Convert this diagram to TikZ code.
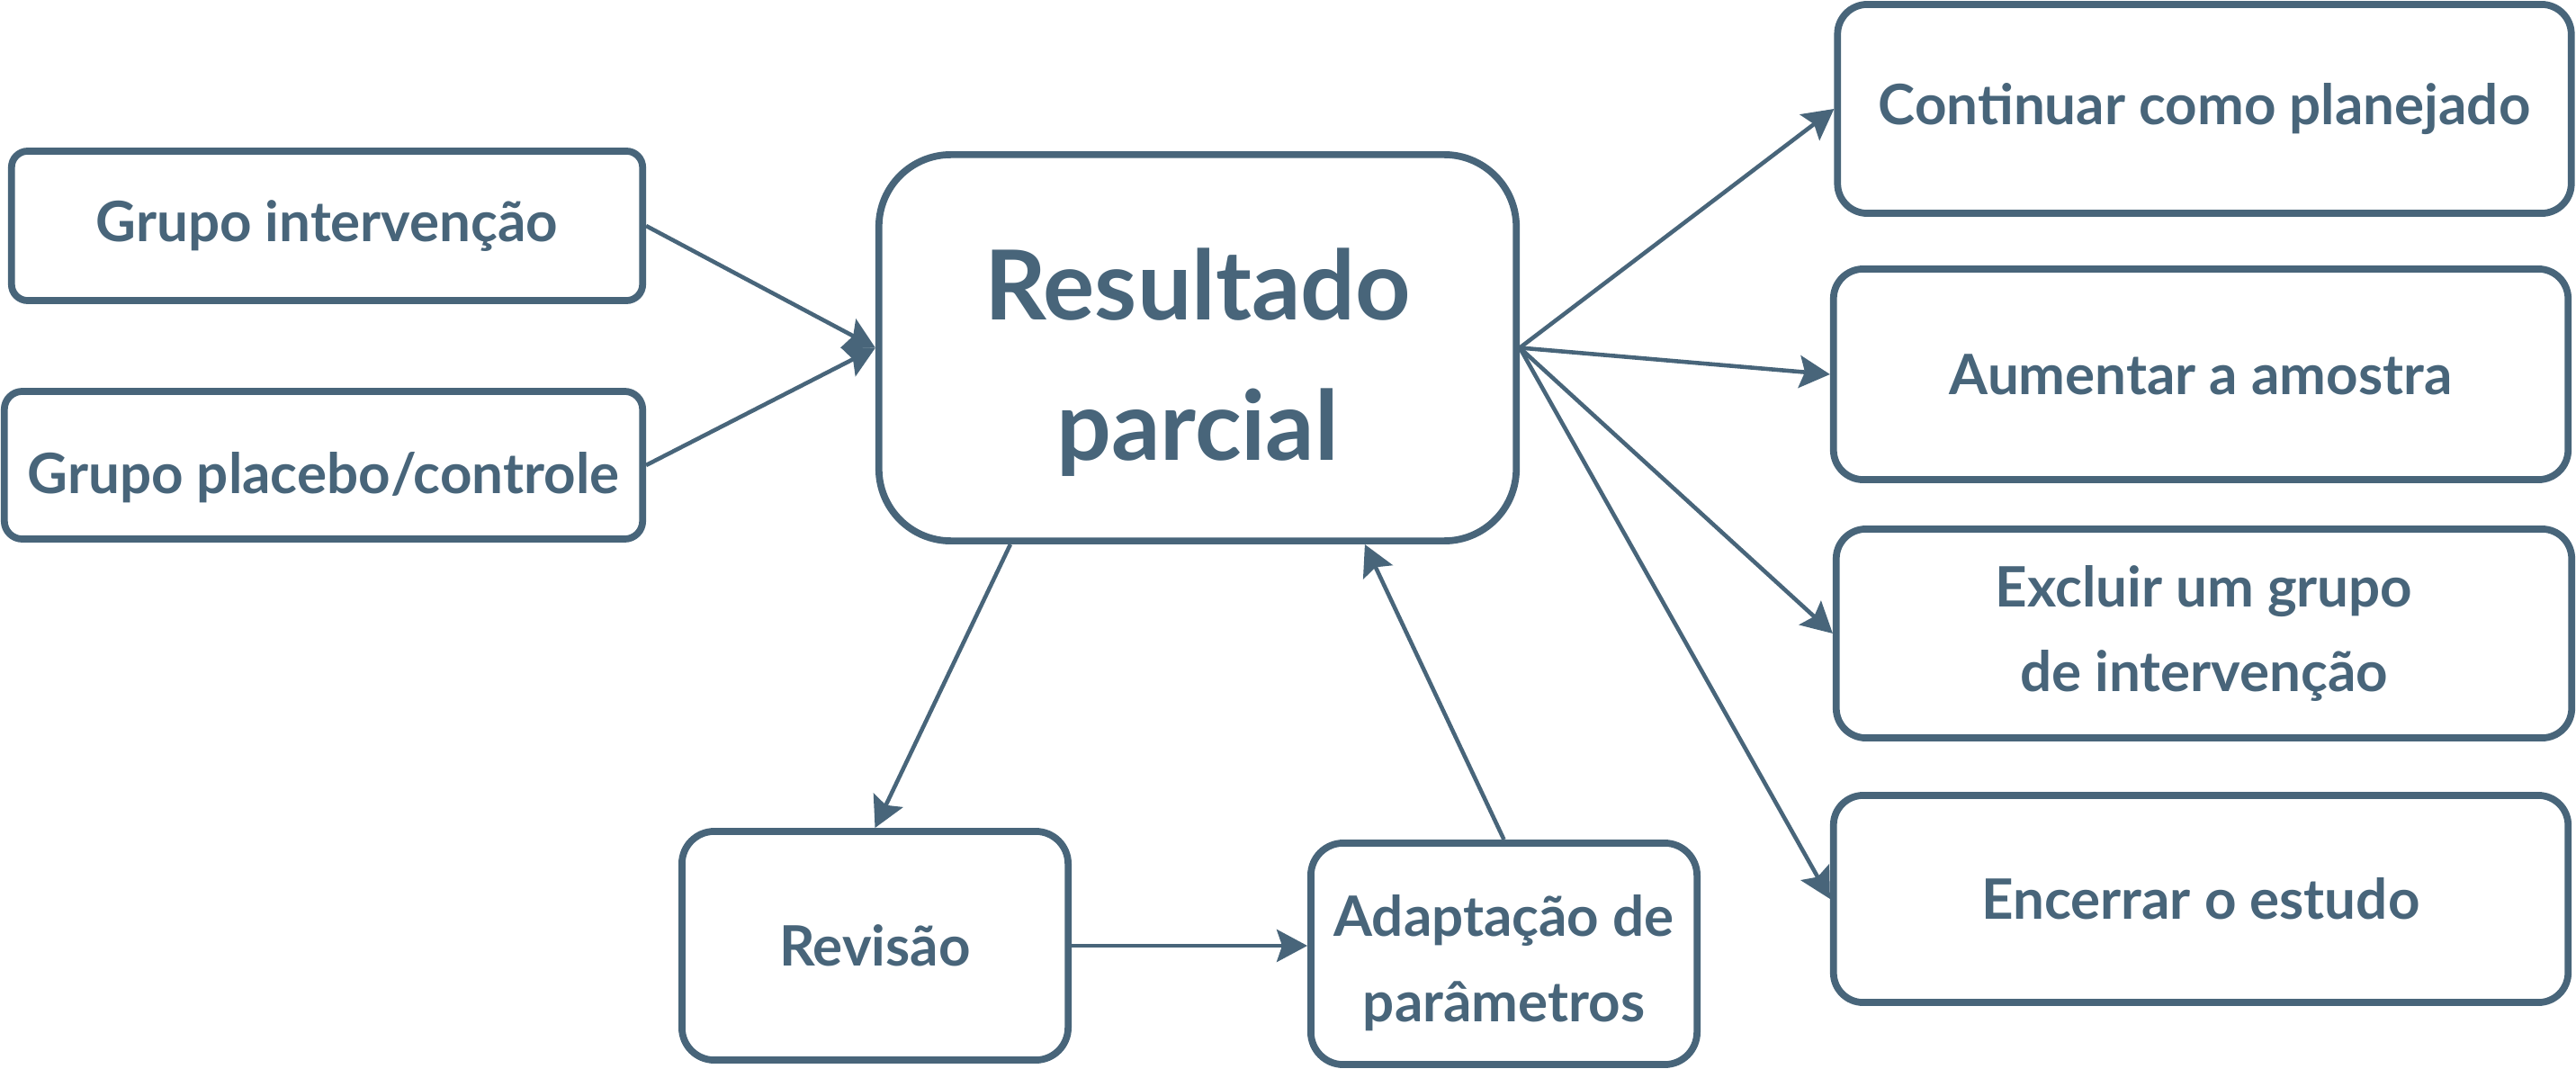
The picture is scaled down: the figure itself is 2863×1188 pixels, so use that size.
\documentclass[tikz,border=0pt]{standalone}
\usepackage{fontspec}
\setmainfont{Lato}
\usetikzlibrary{arrows.meta,calc}
\definecolor{slate}{RGB}{72,101,122}
\begin{document}
\begin{tikzpicture}[x=0.01cm,y=-0.01cm,
  box/.style={draw=slate,line width=2.2pt,rounded corners=#1,text=slate,
    font=\bfseries\fontsize{17.6}{27}\selectfont,align=center,inner sep=0pt},
  box/.default=3mm,
  txt/.style={text=slate,font=\bfseries\fontsize{17.6}{27}\selectfont,align=center,inner sep=0pt},
  conn/.style={draw=slate,line width=1.3pt,-{Stealth[length=3.4mm,width=3.6mm,inset=0.6mm]}}]
\useasboundingbox (0,0) rectangle (2863,1188);
\node[box=1.8mm,minimum width=7.01cm,minimum height=1.66cm] (gi) at (363.5,251) {Grupo intervenção};
\node[box=2mm,minimum width=7.09cm,minimum height=1.64cm] (gp) at (359.5,517) {};
\node[txt] (gpt) at ($(gp.center)+(0,14)$) {Grupo placebo/controle};
\node[box=8mm,minimum width=7.08cm,minimum height=4.29cm] (rp) at (1331,386.5) {};
\node[txt,font=\bfseries\fontsize{30.5}{44.5}\selectfont] (rpt) at ($(rp.center)+(0,16)$) {Resultado\\parcial};
\node[box=3.3mm,minimum width=8.15cm,minimum height=2.32cm] (cp) at (2450,121) {Continuar como planejado};
\node[box=3.3mm,minimum width=8.16cm,minimum height=2.34cm] (aa) at (2446,416) {Aumentar a amostra};
\node[box=3.3mm,minimum width=8.17cm,minimum height=2.32cm] (eg) at (2449.5,704) {Excluir um grupo\\de intervenção};
\node[box=3.3mm,minimum width=8.16cm,minimum height=2.30cm] (ee) at (2446,999) {Encerrar o estudo};
\node[box=3.6mm,minimum width=4.29cm,minimum height=2.54cm] (rev) at (972.5,1051) {Revisão};
\node[box=3.6mm,minimum width=4.29cm,minimum height=2.46cm] (ad) at (1671.5,1060) {};
\node[txt] (adt) at ($(ad.center)+(0,10)$) {Adaptação de\\parâmetros};
\draw[conn] (gi.east) -- (rp.west);
\draw[conn] (gp.east) -- (rp.west);
\draw[conn] (rp.east) -- (cp.west);
\draw[conn] (rp.east) -- (aa.west);
\draw[conn] (rp.east) -- (eg.west);
\draw[conn] (rp.east) -- (ee.west);
\draw[conn] ($(rp.south west)+(150,0)$) -- (rev.north);
\draw[conn] (ad.north) -- ($(rp.south west)+(544,0)$);
\draw[conn] (rev.east) -- (rev.east -| ad.west);
\end{tikzpicture}
\end{document}
